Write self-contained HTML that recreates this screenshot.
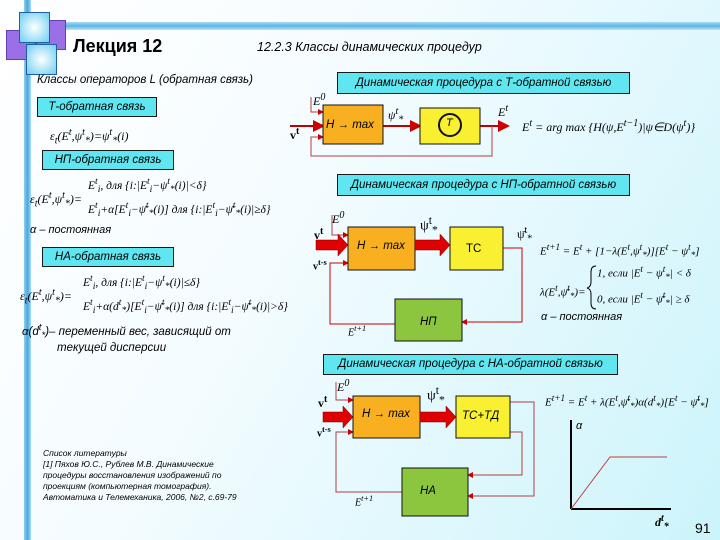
<!DOCTYPE html>
<html><head><meta charset="utf-8"><style>
body{margin:0;width:720px;height:540px;overflow:hidden;position:relative;font-family:"Liberation Sans","DejaVu Sans",sans-serif;background:linear-gradient(120deg,#ffffff 0%,#f4fcff 40%,#ccf4fb 100%);}
.a{position:absolute;white-space:nowrap;color:#000}
.i{font-style:italic}
.cy{position:absolute;background:#5fe6f0;border:1px solid #1a1a1a;font-style:italic;font-size:11.5px;text-align:center;box-sizing:border-box}
.f{font-family:"Liberation Serif",serif;font-size:12px}
</style></head><body>
<div style="position:absolute;left:24px;top:0;width:7px;height:540px;background:linear-gradient(90deg,#8fd0f0,#4aa6e0,#a6dcf5)"></div>
<div style="position:absolute;left:30px;top:22px;width:690px;height:8px;background:linear-gradient(180deg,#a6dcf5,#5fb4e6,#b8e6f8)"></div>
<div style="position:absolute;left:6px;top:30px;width:28px;height:28px;background:#9b6fe6;border:1px solid #6040b0"></div>
<div style="position:absolute;left:36px;top:20px;width:28px;height:28px;background:#9b6fe6;border:1px solid #6040b0"></div>
<div style="position:absolute;left:19px;top:12px;width:29px;height:29px;background:radial-gradient(#fff,#6ccff2);border:1px solid #2060a0"></div>
<div style="position:absolute;left:26px;top:44px;width:29px;height:29px;background:radial-gradient(#fff,#6ccff2);border:1px solid #2060a0"></div>
<div class="a" style="left:73px;top:36px;font-size:18px;font-weight:bold">Лекция 12</div>
<div class="a i" style="left:257px;top:40px;font-size:12.5px">12.2.3 Классы динамических процедур</div>
<div class="a i" style="left:37px;top:74px;font-size:11.5px">Классы операторов L (обратная связь)</div>
<div class="cy" style="left:37px;top:97px;width:120px;height:20px;line-height:18px">Т-обратная связь</div>
<div class="a f i" style="left:50px;top:127px">ε<sub>t</sub>(E<sup>t</sup>,ψ<sup>t</sup><sub>*</sub>)=ψ<sup>t</sup><sub>*</sub>(i)</div>
<div class="cy" style="left:42px;top:150px;width:132px;height:20px;line-height:18px">НП-обратная связь</div>
<div class="a f i" style="left:30px;top:190px">ε<sub>t</sub>(E<sup>t</sup>,ψ<sup>t</sup><sub>*</sub>)=</div>
<div class="a f i" style="left:88px;top:176px;font-size:11.5px">E<sup>t</sup><sub>i</sub>, для {i:|E<sup>t</sup><sub>i</sub>−ψ<sup>t</sup><sub>*</sub>(i)|&lt;δ}</div>
<div class="a f i" style="left:88px;top:200px;font-size:11.5px">E<sup>t</sup><sub>i</sub>+α[E<sup>t</sup><sub>i</sub>−ψ̄<sup>t</sup><sub>*</sub>(i)] для {i:|E<sup>t</sup><sub>i</sub>−ψ̄<sup>t</sup><sub>*</sub>(i)|≥δ}</div>
<div class="a i" style="left:30px;top:224px;font-size:11px">α – постоянная</div>
<div class="cy" style="left:42px;top:247px;width:132px;height:20px;line-height:18px">НА-обратная связь</div>
<div class="a f i" style="left:20px;top:287px">ε<sub>t</sub>(E<sup>t</sup>,ψ<sup>t</sup><sub>*</sub>)=</div>
<div class="a f i" style="left:83px;top:273px;font-size:11.5px">E<sup>t</sup><sub>i</sub>, для {i:|E<sup>t</sup><sub>i</sub>−ψ<sup>t</sup><sub>*</sub>(i)|≤δ}</div>
<div class="a f i" style="left:83px;top:297px;font-size:11.5px">E<sup>t</sup><sub>i</sub>+α(d<sup>t</sup><sub>*</sub>)[E<sup>t</sup><sub>i</sub>−ψ̄<sup>t</sup><sub>*</sub>(i)] для {i:|E<sup>t</sup><sub>i</sub>−ψ̄<sup>t</sup><sub>*</sub>(i)|&gt;δ}</div>
<div class="a i" style="left:22px;top:322px;font-size:11.5px">α(d<sup>t</sup><sub>*</sub>)– переменный вес, зависящий от</div>
<div class="a i" style="left:57px;top:342px;font-size:11.5px">текущей дисперсии</div>
<div class="a i" style="left:43px;top:448px;font-size:8.5px;line-height:11px">Список литературы<br>[1] Пяхов Ю.С., Рублев М.В. Динамические<br>процедуры восстановления изображений по<br>проекциям (компьютерная томография).<br>Автоматика и Телемеханика, 2006, №2, с.69-79</div>

<div class="cy" style="left:337px;top:72px;width:293px;height:22px;line-height:20px">Динамическая процедура с Т-обратной связью</div>
<div class="cy" style="left:337px;top:174px;width:293px;height:22px;line-height:20px">Динамическая процедура с НП-обратной связью</div>
<div class="cy" style="left:323px;top:354px;width:295px;height:21px;line-height:19px">Динамическая процедура с НА-обратной связью</div>

<svg width="720" height="540" style="position:absolute;left:0;top:0">
<defs><marker id="m" markerWidth="6" markerHeight="6" refX="5" refY="3" orient="auto"><path d="M0,0L6,3L0,6z" fill="#c00"/></marker></defs>
<g fill="none" stroke="#b04040" stroke-width="1">
<path d="M311,97V112H323" marker-end="url(#m)"/>
<path d="M290,126H323" stroke-width="2" stroke="#c00000" marker-end="url(#m)"/>
<path d="M383,126H420" stroke-width="2" stroke="#c00000" marker-end="url(#m)"/>
<path d="M480,126H508" stroke-width="2" stroke="#c00000" marker-end="url(#m)"/>
<path d="M492,126V156H311V137H323" marker-end="url(#m)"/>
<path d="M332,215V235H348" marker-end="url(#m)"/>
<path d="M503,248H522V322H462" stroke="#c00" marker-end="url(#m)"/>
<path d="M395,324H330V263H348" stroke="#c00" marker-end="url(#m)"/>
<path d="M336,382V400H353" marker-end="url(#m)"/>
<path d="M510,402H534V496H468" marker-end="url(#m)"/>
<path d="M510,432H522V475H468" marker-end="url(#m)"/>
<path d="M402,492H336V432H353" marker-end="url(#m)"/>
</g>
<rect x="323" y="105" width="60" height="39" fill="#f8b020" stroke="#111"/>
<rect x="420" y="108" width="60" height="36" fill="#f8f030" stroke="#111"/>
<circle cx="450" cy="125" r="11" fill="none" stroke="#111" stroke-width="2"/>
<rect x="348" y="227" width="67" height="43" fill="#f8b020" stroke="#111"/>
<rect x="450" y="227" width="53" height="43" fill="#f8f030" stroke="#111"/>
<rect x="395" y="299" width="67" height="42" fill="#8cc63f" stroke="#111"/>
<rect x="353" y="396" width="67" height="42" fill="#f8b020" stroke="#111"/>
<rect x="456" y="396" width="54" height="42" fill="#f8f030" stroke="#111"/>
<rect x="402" y="468" width="66" height="48" fill="#8cc63f" stroke="#111"/>
<g fill="#e00000" stroke="#700" stroke-width="0.5">
<path d="M316,240H338V234L348,245L338,256V250H316z"/>
<path d="M415,240H440V234L450,245L440,256V250H415z"/>
<path d="M323,412H343V406L353,417L343,428V422H323z"/>
<path d="M420,412H446V406L456,417L446,428V422H420z"/>
</g>
<path d="M571,509V420M571,509H671" stroke="#000" stroke-width="2"/>
<path d="M571,509L610,457H667" stroke="#c04040" fill="none"/>
<path d="M596,266Q591,266 591,272V282Q591,287 587,288Q591,289 591,294V303Q591,309 596,309" stroke="#000" fill="none"/>
</svg>
<div class="a f i" style="left:313px;top:92px">E<sup>0</sup></div>
<div class="a f" style="left:290px;top:126px;font-weight:bold">v<sup>t</sup></div>
<div class="a i" style="left:326px;top:119px;font-size:11.5px">H → max</div>
<div class="a f i" style="left:388px;top:106px">ψ<sup>t</sup><sub>*</sub></div>
<div class="a i" style="left:446px;top:117px;font-size:11px">T</div>
<div class="a f i" style="left:498px;top:103px">E<sup>t</sup></div>
<div class="a f i" style="left:522px;top:118px">E<sup>t</sup> = arg max {H(ψ,E<sup>t−1</sup>)|ψ∈D(ψ<sup>t</sup>)}</div>
<div class="a f i" style="left:332px;top:210px">E<sup>0</sup></div>
<div class="a f" style="left:314px;top:226px;font-weight:bold">v<sup>t</sup></div>
<div class="a f" style="left:313px;top:258px;font-weight:bold;font-size:10px">v<sup>t-s</sup></div>
<div class="a i" style="left:357px;top:240px;font-size:11.5px">H → max</div>
<div class="a f" style="left:420px;top:214px;font-size:14px">ψ<sup>t</sup><sub>*</sub></div>
<div class="a" style="left:466px;top:243px;font-size:11.5px">TC</div>
<div class="a f" style="left:517px;top:225px">ψ̄<sup>t</sup><sub>*</sub></div>
<div class="a i" style="left:420px;top:316px;font-size:11.5px">НП</div>
<div class="a f i" style="left:348px;top:324px;font-size:10px">E<sup>t+1</sup></div>
<div class="a f i" style="left:540px;top:242px;font-size:11px">E<sup>t+1</sup> = E<sup>t</sup> + [1−λ(E<sup>t</sup>,ψ<sup>t</sup><sub>*</sub>)][E<sup>t</sup> − ψ<sup>t</sup><sub>*</sub>]</div>
<div class="a f i" style="left:540px;top:283px;font-size:11px">λ(E<sup>t</sup>,ψ̄<sup>t</sup><sub>*</sub>)=</div>
<div class="a f i" style="left:597px;top:264px;font-size:11px">1, если |E<sup>t</sup> − ψ<sup>t</sup><sub>*</sub>| &lt; δ</div>
<div class="a f i" style="left:597px;top:290px;font-size:11px">0, если |E<sup>t</sup> − ψ̄<sup>t</sup><sub>*</sub>| ≥ δ</div>
<div class="a i" style="left:541px;top:311px;font-size:11px">α – постоянная</div>
<div class="a f i" style="left:337px;top:378px">E<sup>0</sup></div>
<div class="a f" style="left:318px;top:394px;font-weight:bold">v<sup>t</sup></div>
<div class="a f" style="left:317px;top:425px;font-weight:bold;font-size:10px">v<sup>t-s</sup></div>
<div class="a i" style="left:362px;top:408px;font-size:11.5px">H → max</div>
<div class="a f" style="left:427px;top:384px;font-size:14px">ψ<sup>t</sup><sub>*</sub></div>
<div class="a i" style="left:462px;top:410px;font-size:11.5px">TC+TД</div>
<div class="a i" style="left:420px;top:485px;font-size:11.5px">НА</div>
<div class="a f i" style="left:355px;top:494px;font-size:10px">E<sup>t+1</sup></div>
<div class="a f i" style="left:545px;top:393px;font-size:11px">E<sup>t+1</sup> = E<sup>t</sup> + λ(E<sup>t</sup>,ψ̄<sup>t</sup><sub>*</sub>)α(d<sup>t</sup><sub>*</sub>)[E<sup>t</sup> − ψ̄<sup>t</sup><sub>*</sub>]</div>
<div class="a i" style="left:576px;top:420px;font-size:11px">α</div>
<div class="a f i" style="left:655px;top:513px;font-weight:bold">d<sup>t</sup><sub>*</sub></div>
<div class="a" style="left:695px;top:520px;font-size:14px">91</div>
</body></html>
